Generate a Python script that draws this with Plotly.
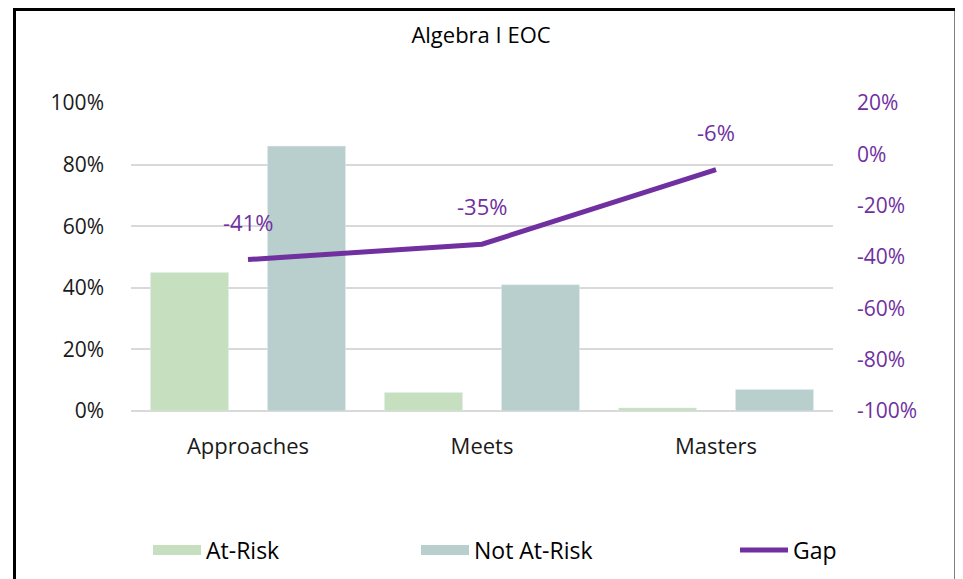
import plotly.graph_objects as go

categories = ["Approaches", "Meets", "Masters"]
at_risk = [45, 6, 1]
not_at_risk = [86, 41, 7]
gap = [a - b for a, b in zip(at_risk, not_at_risk)]

left_tickvals = [0, 0.2, 0.4, 0.6, 0.8, 1.0]
left_ticktext = ["0%", "20%", "40%", "60%", "80%", "100%"]
right_tickvals = [-1.0, -0.8, -0.6, -0.4, -0.2, 0.0, 0.2]
right_ticktext = ["-100%", "-80%", "-60%", "-40%", "-20%", "0%", "20%"]

GREEN = "#C6DFBE"
TEAL = "#B8CFCD"
PURPLE = "#7030A0"
GRID = "#D9D9D9"
FONT = "Open Sans"
TXT = "#1a1a1a"
W = 500

# page offset (body margin) in the browser
OFF = 8

fig = go.Figure()
fig.add_trace(go.Bar(x=categories, y=[v / 100 for v in at_risk], name="At-Risk",
                     marker_color=GREEN, showlegend=False))
fig.add_trace(go.Bar(x=categories, y=[v / 100 for v in not_at_risk], name="Not At-Risk",
                     marker_color=TEAL, showlegend=False))
fig.add_trace(go.Scatter(x=categories, y=[g / 100 for g in gap], name="Gap", yaxis="y2",
                         mode="lines", line=dict(color=PURPLE, width=5),
                         showlegend=True, legend="legend3"))
# legend-only entries for the bar series
fig.add_trace(go.Scatter(x=[None], y=[None], name="At-Risk", mode="lines",
                         line=dict(color=GREEN, width=15), legend="legend"))
fig.add_trace(go.Scatter(x=[None], y=[None], name="Not At-Risk", mode="lines",
                         line=dict(color=TEAL, width=15), legend="legend2"))

for c, g in zip(categories, gap):
    fig.add_annotation(x=c, y=g / 100, yref="y2", text=f"{g}%", showarrow=False,
                       yshift=38, font=dict(family=FONT, size=22, color=PURPLE, weight=W))

plot_l, plot_r, plot_t, plot_b = 131 - OFF, 833 - OFF, 103 - OFF, 411 - OFF
pw, ph = plot_r - plot_l, plot_b - plot_t

def px(x):
    return (x - OFF - plot_l) / pw

def py(y):
    return (plot_b - (y - OFF)) / ph

fig.add_shape(type="rect", xref="paper", yref="paper",
              x0=px(14.5), x1=px(956), y0=py(9.5), y1=py(640),
              line=dict(color="black", width=3), fillcolor="rgba(0,0,0,0)", layer="above")

legend_common = dict(orientation="h", yanchor="middle", xanchor="left", itemwidth=48,
                     font=dict(family=FONT, size=23, color="black", weight=W),
                     bgcolor="rgba(0,0,0,0)", borderwidth=0)

fig.update_layout(
    width=963, height=579,
    margin=dict(l=plot_l, r=963 - plot_r, t=plot_t, b=579 - plot_b),
    paper_bgcolor="white", plot_bgcolor="white",
    font=dict(family=FONT, color=TXT, weight=W),
    title=dict(text="Algebra I EOC", x=(481 - OFF) / 963, xref="container", xanchor="center",
               y=1 - (35 - OFF) / 579, yref="container", yanchor="middle",
               font=dict(family=FONT, size=22, color="black", weight=W)),
    barmode="group", bargap=0, bargroupgap=0.333,
    xaxis=dict(showgrid=False, showline=False, zeroline=False, ticks="",
               tickfont=dict(family=FONT, size=22, color=TXT, weight=W), ticklabelstandoff=20),
    yaxis=dict(range=[0, 1], tickvals=left_tickvals, ticktext=left_ticktext,
               showgrid=True, gridcolor=GRID, gridwidth=2, zeroline=True,
               zerolinecolor=GRID, zerolinewidth=2, showline=False, ticks="",
               tickfont=dict(family=FONT, size=21, color=TXT, weight=W), ticklabelstandoff=26),
    yaxis2=dict(range=[-1, 0.2], tickvals=right_tickvals, ticktext=right_ticktext,
                overlaying="y", side="right", showgrid=False, zeroline=False,
                showline=False, ticks="",
                tickfont=dict(family=FONT, size=21, color=PURPLE, weight=W), ticklabelstandoff=23),
    legend=dict(x=px(148), y=py(550), **legend_common),
    legend2=dict(x=px(416), y=py(550), **legend_common),
    legend3=dict(x=px(735), y=py(550), **legend_common),
)

fig.write_html("out.html")
